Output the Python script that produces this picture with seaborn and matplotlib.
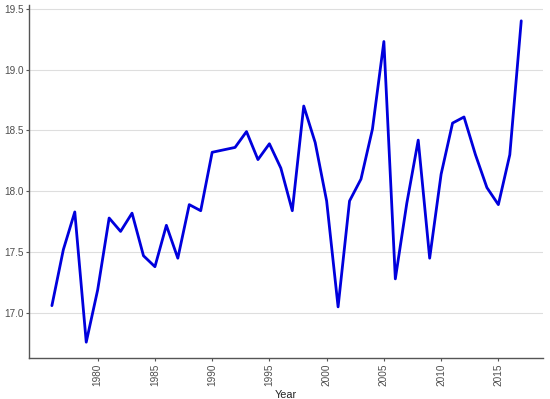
"""Annual series line chart (ggplot-like look)."""

import matplotlib

matplotlib.use("Agg")

import matplotlib.pyplot as plt
import pandas as pd
import seaborn as sns

years = list(range(1976, 2018))
values = [
    17.06, 17.52, 17.83, 16.76, 17.19, 17.78, 17.67, 17.82, 17.47, 17.38,
    17.72, 17.45, 17.89, 17.84, 18.32, 18.34, 18.36, 18.49, 18.26, 18.39,
    18.19, 17.84, 18.70, 18.40, 17.92, 17.05, 17.92, 18.10, 18.51, 19.23,
    17.28, 17.90, 18.42, 17.45, 18.14, 18.56, 18.61, 18.30, 18.03, 17.89,
    18.30, 19.40,
]
x_ticks = [1980, 1985, 1990, 1995, 2000, 2005, 2010, 2015]
y_ticks = [17.0, 17.5, 18.0, 18.5, 19.0, 19.5]

frame = pd.DataFrame({"Year": years, "value": values})

sns.set_theme(style="white")
plt.rcParams["font.family"] = ["Liberation Sans", "DejaVu Sans"]

fig = plt.figure(figsize=(5.5, 3.99), dpi=100)
ax = fig.add_axes([29 / 550, 41 / 399, 514 / 550, 353 / 399])

sns.lineplot(data=frame, x="Year", y="value", color="#0000dd", linewidth=2.0, ax=ax)

ax.set_xlim(1974.0, 2018.9)
ax.set_ylim(16.63, 19.53)
ax.set_xticks(x_ticks)
ax.set_yticks(y_ticks)
ax.set_xticklabels([str(t) for t in x_ticks], rotation=90)
ax.set_yticklabels([f"{t:.1f}" for t in y_ticks])
ax.yaxis.grid(True, color="#dedede", linewidth=0.8)
ax.xaxis.grid(False)
ax.set_axisbelow(True)

for side in ("top", "right"):
    ax.spines[side].set_visible(False)
for side in ("left", "bottom"):
    ax.spines[side].set_color("#555555")
    ax.spines[side].set_linewidth(1.0)

ax.tick_params(axis="both", which="major", length=2.5, width=0.8, color="#555555",
               labelsize=7.2, labelcolor="#4d4d4d", bottom=True, left=True, pad=1.5)
ax.set_xlabel("Year", fontsize=7.8, color="#222222", labelpad=3)
ax.set_ylabel("")

fig.savefig("out.png", dpi=100)
plt.close(fig)
